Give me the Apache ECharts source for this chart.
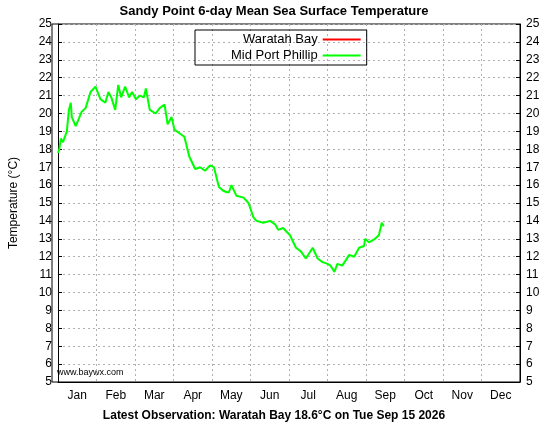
<!DOCTYPE html>
<html><head><meta charset="utf-8">
<script src="https://cdn.jsdelivr.net/npm/echarts@6/dist/echarts.min.js"></script>
<style>html,body{margin:0;padding:0;background:#fff}#c{width:548px;height:424px}</style>
</head><body><div id="c"></div>
<script>
const months = ['Jan','Feb','Mar','Apr','May','Jun','Jul','Aug','Sep','Oct','Nov','Dec'];
const yTicks = [5,25,1];
const days = [0,1,2.3,3.9,7,8.6,10.1,10.9,14,16.4,18.7,21.8,22.6,25.7,29.6,30.4,33.5,37.4,39.8,42.1,45.2,47.6,49.9,53,56.2,58.5,61.6,64.7,67.9,69.4,72.5,77.2,80.3,84.2,86.6,88.1,89.7,92,95.9,99.8,103.7,108.4,112.3,116.2,120.1,123.2,127.1,130.3,133.4,135,137,141,146.6,150.5,154.4,156.8,162.2,167.7,171.6,174,177.8,183.3,188,191.9,195.8,201.2,205.1,209,212.9,215.3,218.4,220.7,224.6,230.1,234,237.9,241.8,242.6,245.7,250.4,253.5,255.8,257.4];
const midPortPhillip = [17.8,18.0,18.6,18.4,19.0,20.2,20.6,19.8,19.3,19.7,20.1,20.3,20.2,21.2,21.5,21.4,20.8,20.6,21.2,20.9,20.2,21.6,20.9,21.5,20.9,21.2,20.8,21.0,20.9,21.4,20.2,20.0,20.3,20.5,19.4,19.3,19.8,19.1,18.9,18.7,17.6,16.9,17.0,16.8,17.1,17.0,15.9,15.7,15.6,15.6,16.0,15.4,15.3,15.0,14.2,14.0,13.9,14.0,13.8,13.5,13.6,13.2,12.5,12.3,11.9,12.5,11.9,11.7,11.6,11.5,11.15,11.6,11.5,12.1,12.0,12.5,12.6,13.0,12.8,13.0,13.2,13.9,13.7];
const waratahBay = [];
const font = 'Liberation Sans, Arial, sans-serif';
const chart = echarts.init(document.getElementById('c'));
const yAx = (pos) => ({type:'value',position:pos,min:yTicks[0],max:yTicks[1],interval:yTicks[2],
  name: pos==='left' ? 'Temperature (°C)' : '', nameLocation:'middle', nameGap:38, nameRotate:90,
  nameTextStyle:{color:'#000',fontSize:12,fontFamily:font},
  axisLine:{show:true,lineStyle:{color:'#000'}},axisTick:{inside:true,length:4,lineStyle:{color:'#000'}},
  axisLabel:{color:'#000',fontSize:12,fontFamily:font,margin:6},
  splitLine:{show:pos==='left',lineStyle:{color:'#b0b0b0',type:[2,3]}}});
chart.setOption({
  animation:false,
  title:[{text:'Sandy Point 6-day Mean Sea Surface Temperature',left:'center',top:0,textStyle:{fontSize:13,fontWeight:'bold',fontFamily:font,color:'#000'}},
         {text:'Latest Observation: Waratah Bay 18.6°C on Tue Sep 15 2026',left:'center',top:405,textStyle:{fontSize:12,fontWeight:'bold',fontFamily:font,color:'#000'}}],
  legend:{orient:'vertical',top:30,left:195,align:'right',itemWidth:38,itemHeight:2,itemGap:3,padding:[3,6,3,36],borderColor:'#000',borderWidth:1,
    textStyle:{fontSize:13,fontFamily:font,color:'#000'},icon:'rect',data:['Waratah Bay','Mid Port Phillip']},
  grid:{left:52,right:28,top:24,bottom:42},
  xAxis:[{type:'category',data:months,boundaryGap:true,position:'bottom',
      axisLine:{show:true,lineStyle:{color:'#000'}},axisTick:{show:false},axisLabel:{color:'#000',fontSize:12,fontFamily:font,margin:8},
      splitLine:{show:true,lineStyle:{color:'#b0b0b0',type:[2,3]}}},
    {type:'value',min:0,max:365,show:false}],
  yAxis:[yAx('left'),yAx('right')],
  graphic:[{type:'text',left:57,top:368,style:{text:'www.baywx.com',fontSize:9,fontFamily:font,fill:'#000'}},
           {type:'rect',shape:{x:52,y:24,width:468,height:358},style:{fill:'none',stroke:'#000',lineWidth:1},silent:true}],
  series:[{name:'Waratah Bay',type:'line',xAxisIndex:1,data:waratahBay,color:'#ff0000',showSymbol:false},
    {name:'Mid Port Phillip',type:'line',xAxisIndex:1,color:'#00ff00',showSymbol:false,lineStyle:{width:2},
     data:days.map((d,i)=>[d,midPortPhillip[i]])}]
});
</script></body></html>
